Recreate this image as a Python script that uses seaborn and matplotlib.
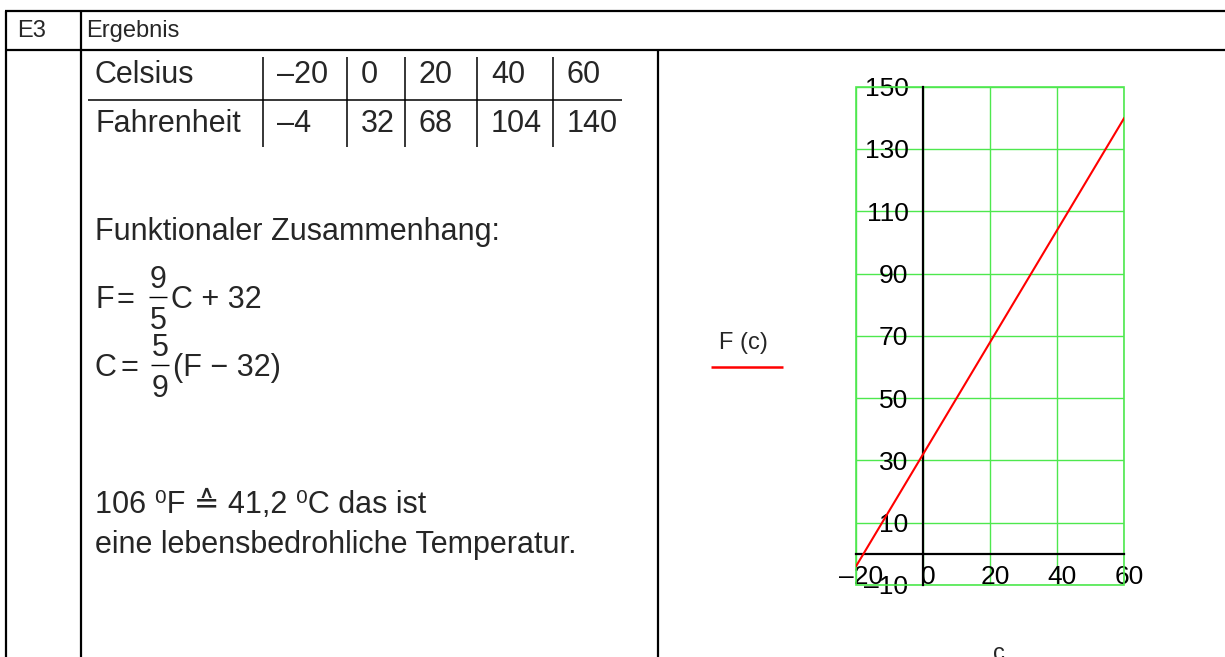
import matplotlib
matplotlib.use("Agg")
import matplotlib.pyplot as plt
import matplotlib.transforms as mtransforms
from matplotlib.patches import Rectangle
import seaborn as sns

# values of the table / chart
celsius = [-20, 0, 20, 40, 60]
fahrenheit = [-4, 32, 68, 104, 140]
x_ticks = [-20, 0, 20, 40, 60]
y_ticks = [-10, 10, 30, 50, 70, 90, 110, 130, 150]

sns.set_style("white")
plt.rcParams["font.family"] = ["Liberation Sans", "DejaVu Sans"]

W, H = 1225, 657
GREEN = "#4ee84e"
fig = plt.figure(figsize=(W / 100, H / 100), dpi=100)

# background layer in pixel coordinates for the worksheet table
bg = fig.add_axes([0, 0, 1, 1])
bg.set_xlim(0, W)
bg.set_ylim(H, 0)
bg.axis("off")


def hline(y, x0, x1, lw=1.6, color="black"):
    bg.plot([x0, x1], [y, y], color=color, lw=lw, solid_capstyle="butt")


def vline(x, y0, y1, lw=1.6):
    bg.plot([x, x], [y0, y1], color="black", lw=lw, solid_capstyle="butt")


def txt(x, y, s, size=22, **kw):
    bg.text(x, y, s, fontsize=size, va="baseline", **kw)


def dash(v):
    return str(v).replace("-", "\u2013")


# frame of the worksheet
hline(11, 5, W)
hline(50, 5, W)
vline(6, 11, H)
vline(81, 11, H)
vline(658, 50, H)

txt(17, 37, "E3", size=17)
txt(86, 37, "Ergebnis", size=17)

# value table
txt(95, 83, "Celsius")
txt(95, 132, "Fahrenheit")
col_bars = [263, 347, 405, 477, 553]
for bx, c, f in zip(col_bars, celsius, fahrenheit):
    vline(bx, 57, 147, lw=1.1)
    txt(bx + 14, 83, dash(c))
    txt(bx + 14, 132, dash(f))
hline(100, 88, 622, lw=1.1)

# formulas
txt(95, 240, "Funktionaler Zusammenhang:")


def frac(xc, ybar, num, den):
    bg.text(xc, ybar - 9, num, fontsize=22, ha="center", va="baseline")
    bg.text(xc, ybar + 32, den, fontsize=22, ha="center", va="baseline")
    hline(ybar, xc - 9, xc + 9, lw=1)


txt(95, 308, "F")
txt(116, 308, "=")
frac(158, 297, "9", "5")
txt(171, 308, "C + 32")

txt(95, 376, "C")
txt(121, 376, "=")
frac(160, 365, "5", "9")
txt(173, 376, "(F \u2212 32)")

txt(95, 513, "106 \u2070F \u2259 41,2 \u2070C das ist")
txt(95, 553, "eine lebensbedrohliche Temperatur.")

# the chart
ax = fig.add_axes([856 / W, 1 - 585 / H, 268.3 / W, 498.3 / H])
ax.set_facecolor("none")
sns.lineplot(x=celsius, y=fahrenheit, ax=ax, color="red", lw=1.5, zorder=5)
ax.set_xlim(-20, 60)
ax.set_ylim(-10, 150)
ax.set_xticks(x_ticks)
ax.set_yticks(y_ticks)
ax.set_xticklabels([dash(v) for v in x_ticks])
ax.set_yticklabels([dash(v) for v in y_ticks])

ax.grid(True, color=GREEN, lw=1)
ax.add_patch(Rectangle((0, 0), 1, 1, transform=ax.transAxes, fill=False,
                       ec=GREEN, lw=1.2, clip_on=False, zorder=1))
for s in ["top", "right"]:
    ax.spines[s].set_visible(False)
for s in ["left", "bottom"]:
    ax.spines[s].set_position(("data", 0))
    ax.spines[s].set_color("black")
    ax.spines[s].set_linewidth(1.6)
    ax.spines[s].set_zorder(4)

ax.tick_params(axis="y", direction="inout", length=12, width=1.6,
               pad=4.5, labelsize=19, colors="black")
ax.tick_params(axis="x", direction="in", length=6.5, width=1.6,
               pad=8, labelsize=19, colors="black")
shift = mtransforms.ScaledTranslation(5 / 100, 0, fig.dpi_scale_trans)
for lab in ax.get_xticklabels():
    lab.set_transform(lab.get_transform() + shift)

ax.set_ylabel("F (c)", rotation=0, fontsize=17, va="baseline", ha="center")
ax.yaxis.set_label_coords((743.5 - 856) / 268.3, (585 - 349) / 498.3)
ax.set_xlabel("c", fontsize=17, va="baseline", ha="center")
ax.xaxis.set_label_coords((999 - 856) / 268.3, (585 - 659.5) / 498.3)

# trace marker under the y label
hline(366.7, 711, 783, lw=1.8, color="red")

fig.savefig("out.png", dpi=100)
